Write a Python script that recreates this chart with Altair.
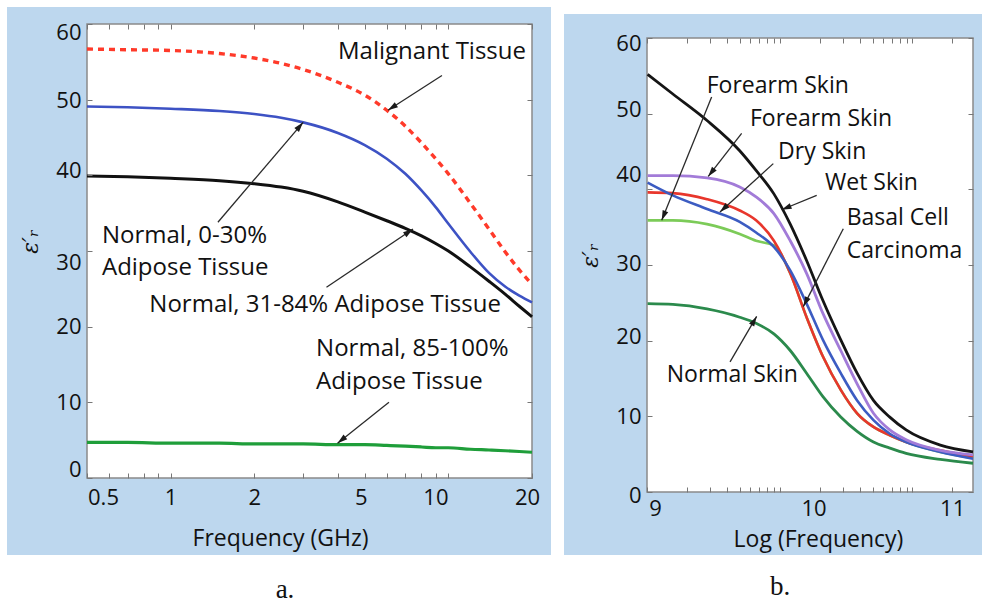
import math
import altair as alt
import pandas as pd

# ---------------- panel a : relative permittivity vs frequency (GHz) ----------------
A_FREQ = [0.5, 0.7, 1, 1.5, 2, 2.5, 3, 4, 5, 6, 7, 8, 9, 10, 12, 14, 16, 18, 20]
A_MALIGNANT = [56.7, 56.6, 56.5, 56.1, 55.5, 54.8, 54.0, 52.3, 50.6, 48.6, 46.5, 44.3, 42.2, 40.2, 36.3, 32.9, 29.9, 27.5, 25.6]
A_NORMAL_0_30 = [49.1, 49.0, 48.8, 48.5, 48.1, 47.6, 47.0, 45.6, 44.0, 42.2, 40.2, 38.0, 35.8, 33.6, 29.9, 27.1, 25.3, 24.1, 23.2]
A_NORMAL_31_84 = [39.9, 39.8, 39.6, 39.3, 38.9, 38.45, 37.9, 36.5, 35.15, 34.0, 33.0, 32.0, 31.0, 30.0, 27.9, 26.0, 24.3, 22.7, 21.3]
A_NORMAL_85_100 = [4.7, 4.7, 4.6, 4.6, 4.5, 4.5, 4.5, 4.4, 4.4, 4.3, 4.2, 4.1, 4.0, 4.0, 3.8, 3.7, 3.6, 3.5, 3.4]
A_X_LABELS = [0.5, 1, 2, 5, 10, 20]
A_X_TICKS = [0.5, 0.6, 0.7, 0.8, 0.9, 1, 2, 3, 4, 5, 6, 7, 8, 9, 10, 20]
Y_TICKS = [0, 10, 20, 30, 40, 50, 60]

A_TEXT = ["Malignant Tissue", "Normal, 0-30%", "Adipose Tissue",
          "Normal, 31-84% Adipose Tissue", "Normal, 85-100%", "Adipose Tissue"]
A_TEXT_X = [8.73, 0.566, 0.566, 3.60, 3.34, 3.34]
A_TEXT_Y = [56.3, 32.0, 27.7, 22.85, 17.0, 12.7]
A_TEXT_ALIGN = ["center", "left", "left", "center", "left", "left"]
A_ARROW_X1 = [9.48, 1.48, 3.64, 6.11]
A_ARROW_Y1 = [53.2, 33.8, 25.2, 10.0]
A_ARROW_X2 = [6.06, 3.0, 7.46, 3.99]
A_ARROW_Y2 = [48.6, 47.0, 32.9, 4.6]

# ---------------- panel b : relative permittivity vs log(frequency) ----------------
B_LOGF = [8.95, 9.12, 9.35, 9.57, 9.68, 9.80, 9.91, 10.02, 10.13, 10.25, 10.36, 10.47, 10.58, 10.69, 10.92, 11.14]
B_WET = [55.2, 52.6, 49.1, 45.1, 42.5, 39.4, 35.4, 30.6, 25.3, 20.1, 15.7, 12.1, 9.9, 8.2, 6.2, 5.3]
B_FOREARM_2 = [41.8, 41.8, 41.5, 40.3, 39.0, 36.8, 33.2, 28.9, 23.6, 18.7, 14.3, 10.4, 8.2, 6.9, 5.5, 4.9]
B_DRY = [40.9, 39.2, 37.4, 35.7, 34.3, 32.4, 29.3, 24.9, 20.1, 15.7, 12.1, 9.5, 7.7, 6.6, 5.3, 4.4]
B_BASAL = [39.6, 39.5, 38.7, 37.2, 35.9, 33.2, 28.9, 23.1, 17.9, 13.5, 10.4, 8.6, 7.5, 6.6, 5.5, 4.7]
B_FOREARM_1 = [35.9, 35.9, 35.4, 34.1, 33.2, 32.6, 28.9, 23.1, 17.9, 13.5, 10.4, 8.6, 7.5, 6.6, 5.3, 4.5]
B_NORMAL = [24.9, 24.8, 24.2, 23.1, 22.3, 20.9, 18.7, 15.7, 12.6, 9.9, 8.0, 6.6, 5.8, 5.1, 4.3, 3.8]
B_X_LABELS = [9, 10, 11]
B_DECADES = [8.946, 9.841, 10.729]

B_TEXT = ["Forearm Skin", "Forearm Skin", "Dry Skin", "Wet Skin", "Basal Cell", "Carcinoma", "Normal Skin"]
B_TEXT_X = [9.348, 9.639, 9.828, 10.144, 10.29, 10.29, 9.079]
B_TEXT_Y = [53.6, 49.3, 45.0, 40.8, 36.2, 31.8, 15.5]
B_ARROW_X1 = [9.381, 9.583, 9.796, 10.088, 10.267, 9.505]
B_ARROW_Y1 = [52.2, 47.4, 43.4, 39.2, 34.8, 17.2]
B_ARROW_X2 = [9.045, 9.358, 9.437, 9.852, 9.998, 9.684]
B_ARROW_Y2 = [35.9, 41.7, 37.0, 37.3, 24.5, 23.2]

# ---------------- styling ----------------
BG_BLUE = "#bdd7ee"
FONT = "Open Sans"
INK = "#111111"
TICK = "#777777"
ARROW_PATH = "M0,0L-0.6,2L0.6,2Z"
H = 454
W_A = 445
W_B = 326
A_DOM = [0.5, 20]
B_DOM = [8.946, 11.14]
DUMMY = pd.DataFrame({"d": [1]})


def nudge(pairs):
    """Conditional label offsets: tick labels sit slightly off their ticks in the original."""
    return {"condition": [{"test": f"datum.value == {v}", "value": o} for v, o in pairs],
            "value": 0}


A_XLABEL_NUDGE = nudge([(0.5, 16), (5, -4), (10, -13), (20, -5)])
B_XLABEL_NUDGE = nudge([(10, 10)])
A_YLABEL_NUDGE = nudge([(60, 8), (50, 1), (40, -5), (30, 11), (0, -9)])
B_YLABEL_NUDGE = nudge([(60, 5), (50, -4), (40, -15), (30, -2), (20, -4), (0, 3)])


def long_df(xs, series):
    rows = []
    for name, vals in series:
        for x, v in zip(xs, vals):
            rows.append({"x": x, "v": v, "s": name})
    return pd.DataFrame(rows)


def arrow_df(x1, y1, x2, y2, sx, sy):
    rows = []
    for a, b, c, d in zip(x1, y1, x2, y2):
        dx = sx(c) - sx(a)
        dy = sy(d) - sy(b)
        ang = (math.degrees(math.atan2(dx, -dy)) + 360) % 360
        rows.append({"x1": a, "y1": b, "x2": c, "y2": d, "ang": ang})
    return pd.DataFrame(rows)


def build_panel(df, styles, xs, W, top, txt, arr, x_labels, x_fmt, x_nudge, y_nudge, x_ticks,
                x_title, x_title_xy, x_lab_pad, blue, caption, cap_xy, ann_fs):
    Hv = H + top
    ys = alt.Scale(domain=[0, 60], range=[Hv, top], nice=False, zero=False)
    layers = []
    # blue panel background
    layers.append(alt.Chart(DUMMY).mark_rect(color=BG_BLUE).encode(
        x=alt.value(blue[0]), x2=alt.value(W + blue[1]),
        y=alt.value(blue[2]), y2=alt.value(Hv + blue[3])))
    # white plot area with grey frame
    layers.append(alt.Chart(DUMMY).mark_rect(fill="white", stroke="#8a8a8a", strokeWidth=1.5).encode(
        x=alt.value(0), x2=alt.value(W), y=alt.value(top), y2=alt.value(Hv)))
    # curves
    for name, color, width, dash in styles:
        kw = dict(color=color, strokeWidth=width, interpolate="monotone")
        if dash:
            kw["strokeDash"] = dash
        layers.append(alt.Chart(df[df.s == name]).mark_line(**kw).encode(
            x=alt.X("x:Q", scale=xs, axis=None),
            y=alt.Y("v:Q", scale=ys, axis=None)))
    # arrows
    layers.append(alt.Chart(arr).mark_rule(color="#2a2a2a", strokeWidth=1.3).encode(
        x=alt.X("x1:Q", scale=xs, axis=None), y=alt.Y("y1:Q", scale=ys, axis=None),
        x2="x2:Q", y2="y2:Q"))
    layers.append(alt.Chart(arr).mark_point(shape=ARROW_PATH, filled=True, size=100,
                                            color="#1a1a1a", opacity=1).encode(
        x=alt.X("x2:Q", scale=xs, axis=None), y=alt.Y("y2:Q", scale=ys, axis=None),
        angle=alt.Angle("ang:Q", scale=None)))
    # annotation text
    for al in ["left", "center"]:
        sub = txt[txt.al == al]
        if len(sub):
            layers.append(alt.Chart(sub).mark_text(align=al, baseline="middle", font=FONT,
                                                   fontSize=ann_fs, color=INK).encode(
                x=alt.X("x:Q", scale=xs, axis=None), y=alt.Y("y:Q", scale=ys, axis=None),
                text="t:N"))
    # axis carriers (invisible points)
    base = alt.Chart(df).mark_point(opacity=0)
    layers.append(base.encode(
        x=alt.X("x:Q", scale=xs, axis=alt.Axis(
            orient="bottom", values=x_labels, format=x_fmt, labelFlush=False, labelBound=False,
            labelOffset=x_nudge, tickSize=0,
            domain=False, grid=False, labelPadding=x_lab_pad, labelFont=FONT, labelFontSize=22,
            labelColor=INK, labelOverlap=False, title=x_title, titleFont=FONT, titleFontSize=23,
            titleFontWeight="normal", titleColor=INK, titleX=x_title_xy[0], titleY=x_title_xy[1],
            titleAlign="center", titleBaseline="middle", zindex=1)),
        y=alt.Y("v:Q", scale=ys, axis=alt.Axis(
            orient="left", values=Y_TICKS, tickSize=0, domain=False, grid=False, labelPadding=6,
            labelOffset=y_nudge, labelFlush=False, labelBound=False, labelOverlap=False,
            labelFont=FONT, labelFontSize=22, labelColor=INK, title="ε′ᵣ",
            titleFont="DejaVu Serif", titleFontStyle="italic", titleFontSize=22,
            titleFontWeight="normal", titleColor=INK, titleX=-57, titleY=217 + top, titleAngle=270,
            titleAlign="center", titleBaseline="middle", zindex=1))))
    tick_kw = dict(labels=False, domain=False, grid=False, tickSize=5, tickColor=TICK,
                   tickWidth=1, title=None, zindex=1)
    layers.append(base.encode(
        x=alt.X("x:Q", scale=xs, axis=alt.Axis(orient="bottom", values=x_ticks, offset=-5, **tick_kw)),
        y=alt.Y("v:Q", scale=ys, axis=alt.Axis(orient="left", values=Y_TICKS, offset=-5, **tick_kw))))
    layers.append(base.encode(
        x=alt.X("x:Q", scale=xs, axis=alt.Axis(orient="top", values=x_ticks, offset=-5 - top, **tick_kw)),
        y=alt.Y("v:Q", scale=ys, axis=alt.Axis(orient="right", values=Y_TICKS, offset=-5, **tick_kw))))
    # caption
    layers.append(alt.Chart(DUMMY).mark_text(text=caption, font="Liberation Serif", fontSize=27,
                                             color=INK, baseline="middle").encode(
        x=alt.value(cap_xy[0]), y=alt.value(cap_xy[1])))
    return alt.layer(*layers).resolve_axis(x="independent", y="independent").properties(
        width=W, height=Hv)


def sy(v):
    return H * (1 - v / 60)


# panel a
xs_a = alt.Scale(type="log", domain=A_DOM, nice=False)
df_a = long_df(A_FREQ, [("Malignant", A_MALIGNANT), ("N0_30", A_NORMAL_0_30),
                        ("N31_84", A_NORMAL_31_84), ("N85_100", A_NORMAL_85_100)])
styles_a = [("N85_100", "#1f9e3a", 3.2, None),
            ("N31_84", "#111111", 3.0, None),
            ("N0_30", "#3d52c4", 2.6, None),
            ("Malignant", "#ff3a2a", 3.4, [6, 5])]
txt_a = pd.DataFrame({"t": A_TEXT, "x": A_TEXT_X, "y": A_TEXT_Y, "al": A_TEXT_ALIGN})


def sx_a(f):
    return W_A * (math.log10(f) - math.log10(A_DOM[0])) / (math.log10(A_DOM[1]) - math.log10(A_DOM[0]))


arr_a = arrow_df(A_ARROW_X1, A_ARROW_Y1, A_ARROW_X2, A_ARROW_Y2, sx_a, sy)
panel_a = build_panel(df_a, styles_a, xs_a, W_A, 0, txt_a, arr_a, A_X_LABELS, "~g",
                      A_XLABEL_NUDGE, A_YLABEL_NUDGE, A_X_TICKS, "Frequency (GHz)", (193, 60), 9,
                      (-80, 19, -17, 77), "a.", (198, 566), 24)

# panel b
xs_b = alt.Scale(domain=B_DOM, nice=False, zero=False)
df_b = long_df(B_LOGF, [("Forearm1", B_FOREARM_1), ("Normal", B_NORMAL), ("Basal", B_BASAL),
                        ("Dry", B_DRY), ("Forearm2", B_FOREARM_2), ("Wet", B_WET)])
styles_b = [("Forearm1", "#7ccb58", 2.6, None),
            ("Normal", "#2b8a4c", 2.8, None),
            ("Basal", "#e8362c", 2.6, None),
            ("Dry", "#3c5cc2", 2.6, None),
            ("Forearm2", "#a27bd8", 2.8, None),
            ("Wet", "#151515", 2.8, None)]
txt_b = pd.DataFrame({"t": B_TEXT, "x": B_TEXT_X, "y": B_TEXT_Y, "al": ["left"] * len(B_TEXT)})
b_ticks = []
for d in B_DECADES:
    for k in range(1, 10):
        u = d + (B_DECADES[1] - B_DECADES[0]) * math.log10(k)
        if u <= B_DOM[1]:
            b_ticks.append(round(u, 4))


def sx_b(u):
    return W_B * (u - B_DOM[0]) / (B_DOM[1] - B_DOM[0])


arr_b = arrow_df(B_ARROW_X1, B_ARROW_Y1, B_ARROW_X2, B_ARROW_Y2, sx_b, sy)
panel_b = build_panel(df_b, styles_b, xs_b, W_B, 14, txt_b, arr_b, B_X_LABELS, "d",
                      B_XLABEL_NUDGE, B_YLABEL_NUDGE, b_ticks, "Log (Frequency)", (171, 47), 6,
                      (-83, 9, -10, 63), "b.", (133, 563), 23)

chart = alt.hconcat(panel_a, panel_b, spacing=13).properties(
    padding={"left": 7, "top": 7, "right": 0, "bottom": 0},
    background="white",
).configure_view(strokeWidth=0)

chart.save("out.html", embed_options={"renderer": "svg", "actions": False})
